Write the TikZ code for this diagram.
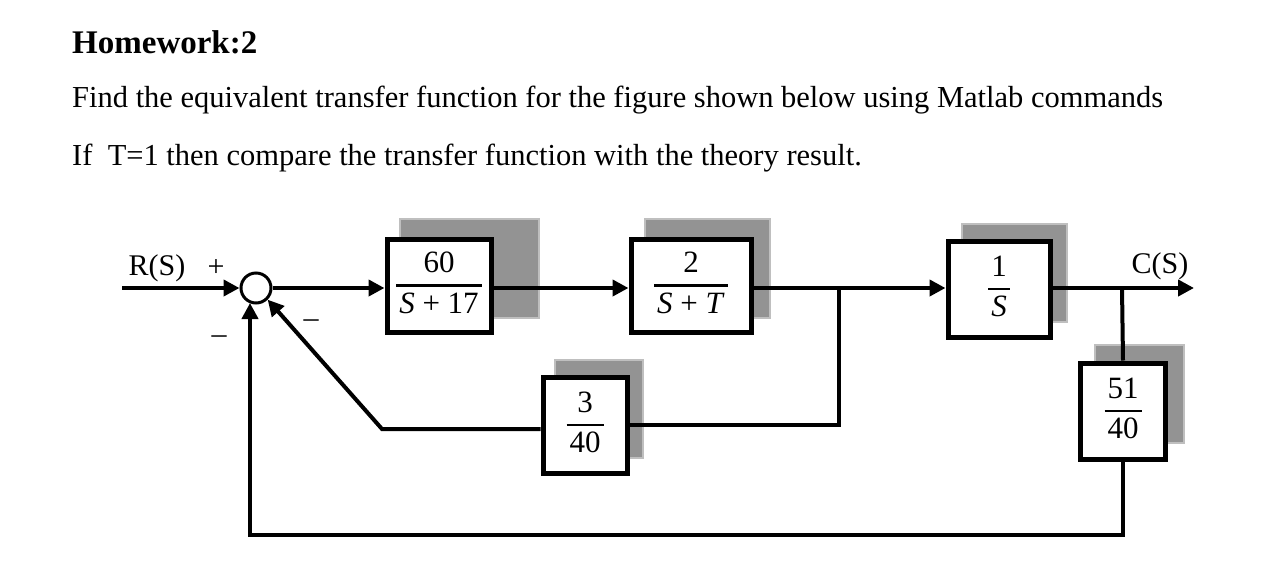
\documentclass[tikz,border=0pt]{standalone}
\usepackage{fontspec}
\setmainfont{Liberation Serif}
\usetikzlibrary{arrows.meta}
\newcommand{\frc}[2]{{\setlength{\arrayrulewidth}{2.5pt}\renewcommand{\arraystretch}{1.05}\setlength{\tabcolsep}{3pt}\begin{tabular}{c}#1\\\hline #2\end{tabular}}}
\begin{document}
\begin{tikzpicture}[x=1pt,y=-1pt,
  blk/.style={draw,line width=5pt,fill=white,inner sep=0pt,font=\fontsize{31}{36}\selectfont},
  shd/.style={fill=gray!85,draw=gray!50,line width=1.5pt},
  ln/.style={line width=4pt},
  arr/.style={ln,-{Triangle[length=16pt,width=16pt]}},
  lab/.style={font=\fontsize{30}{36}\selectfont,inner sep=0pt},
  txt/.style={font=\fontsize{30.5}{36}\selectfont,anchor=west,inner sep=0pt}]
\useasboundingbox (0,0) rectangle (1284,568);
\node[txt,font=\fontsize{33}{40}\selectfont\bfseries] (t) at (72,42) {Homework:2};
\node[txt] (l1) at (72,100) {Find the equivalent transfer function for the figure shown below using Matlab commands};
\node[txt] (l2) at (72,158) {If\ \ T=1 then compare the transfer function with the theory result.};
% shadows
\fill[shd] (400,219) rectangle (539,318);
\fill[shd] (645,219) rectangle (770,318);
\fill[shd] (962,224) rectangle (1067,322);
\fill[shd] (1095,345) rectangle (1184,443);
\fill[shd] (555,360) rectangle (643,458);
% blocks
\node[blk,minimum width=104pt,minimum height=93pt] (b1) at (439,285.5) {\frc{60}{\textit{S} + 17}};
\node[blk,minimum width=120pt,minimum height=93pt] (b2) at (691,285.5) {\frc{2}{\textit{S} + \textit{T}}};
\node[blk,minimum width=102pt,minimum height=96pt] (b3) at (999,289) {\frc{1}{\textit{S}}};
\node[blk,minimum width=85pt,minimum height=96pt] (b4) at (1123,411) {\frc{51}{40}};
\node[blk,minimum width=84pt,minimum height=96pt] (b5) at (585,425) {\frc{3}{40}};
\node[circle,draw,line width=3pt,minimum size=30pt,inner sep=0pt,fill=white] (s) at (256,288) {};
% labels
\node[lab] (r) at (157,268) {R(S)};
\node[lab] (p) at (216,268) {+};
\node[lab] (c) at (1160,266) {C(S)};
\node[lab] (m1) at (219,340) {–};
\node[lab] (m2) at (311,324) {–};
% connectors
\coordinate (in) at (122,288);
\coordinate (out) at (1194,288);
\draw[arr] (in) -- (s.west);
\draw[arr] (s.east) -- (b1.west |- 0,288);
\draw[arr] (b1.east |- 0,288) -- (b2.west |- 0,288);
\draw[arr] (b2.east |- 0,288) -- (b3.west |- 0,288);
\draw[arr] (b3.east |- 0,288) -- (out);
\draw[ln] (1122,288) -- (b4.north);
\draw[arr] (b4.south) -- (1123,535) -- (250,535) -- (250,303);
\draw[ln] (839,288) -- (839,425) -- (b5.east |- 0,425);
\draw[arr] (b5.west |- 0,429) -- (382,429) -- (s.south east);
\end{tikzpicture}
\end{document}
